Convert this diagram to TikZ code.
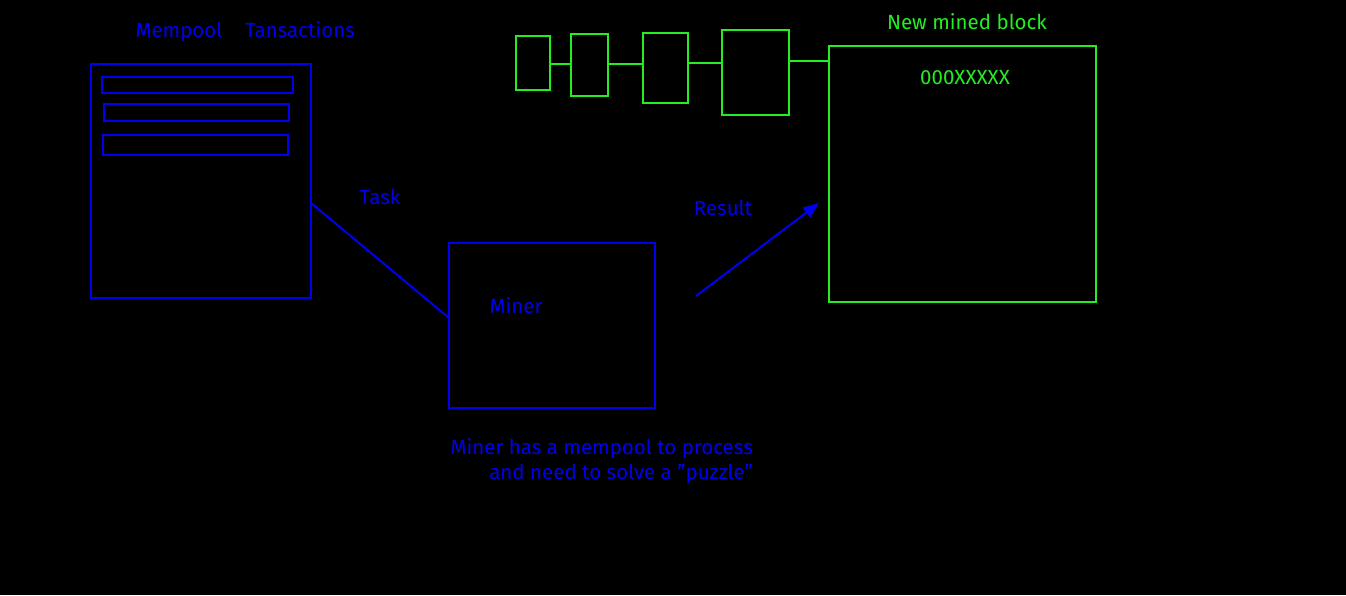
\documentclass[tikz,border=0pt]{standalone}
\usepackage{fontspec}
\setmainfont{Fira Sans}
\usetikzlibrary{arrows.meta}
\definecolor{bl}{HTML}{0000F0}
\definecolor{gr}{HTML}{22EE22}
\begin{document}
\begin{tikzpicture}[x=1pt,y=-1pt,
  box/.style={draw,line width=2pt,inner sep=0pt,outer sep=0pt,anchor=north west},
  bbox/.style={box,draw=bl},
  gbox/.style={box,draw=gr},
  btxt/.style={text=bl,font=\fontsize{20.5}{25}\selectfont,inner sep=0pt},
  gtxt/.style={text=gr,font=\fontsize{20.5}{25}\selectfont,inner sep=0pt},
  link/.style={line width=2pt}]
\fill[black] (0,0) rectangle (1346,595);
\useasboundingbox (0,0) rectangle (1346,595);
% mempool
\node[btxt] (mplabel) at (179,31.5) {Mempool};
\node[btxt] (txlabel) at (300,29.5) {Tansactions};
\node[bbox,minimum width=220pt,minimum height=234pt] (mp) at (91,64) {};
\node[bbox,minimum width=191pt,minimum height=16pt] (t1) at (102,77) {};
\node[bbox,minimum width=185pt,minimum height=17pt] (t2) at (104,104) {};
\node[bbox,minimum width=185pt,minimum height=20pt] (t3) at (103,135) {};
% miner
\node[bbox,minimum width=206pt,minimum height=165pt] (miner) at (449,243) {};
\node[btxt] (minerlabel) at (516,306) {Miner};
\node[btxt] (tasklabel) at (380,197) {Task};
\draw[link,bl] (mp.east |- 0,203) -- (miner.west |- 0,318);
\node[btxt,align=right,anchor=north east] (caption) at (753,438) {Miner has a mempool to process\\and need to solve a "puzzle"};
% result
\coordinate (rs) at (696,296);
\coordinate (re) at (819,203);
\draw[link,bl,-{Triangle[length=16pt,width=12pt]}] (rs) -- (re);
\node[btxt] (reslabel) at (723,208) {Result};
% chain
\node[gbox,minimum width=34pt,minimum height=54pt] (b1) at (516,36) {};
\node[gbox,minimum width=37pt,minimum height=62pt] (b2) at (571,34) {};
\node[gbox,minimum width=45pt,minimum height=70pt] (b3) at (643,33) {};
\node[gbox,minimum width=67pt,minimum height=85pt] (b4) at (722,30) {};
\node[gbox,minimum width=267pt,minimum height=256pt] (nb) at (829,46) {};
\draw[link,gr] (b1.east |- 0,64) -- (b2.west |- 0,64);
\draw[link,gr] (b2.east |- 0,64) -- (b3.west |- 0,64);
\draw[link,gr] (b3.east |- 0,63) -- (b4.west |- 0,63);
\draw[link,gr] (b4.east |- 0,61) -- (nb.west |- 0,61);
\node[gtxt] (nblabel) at (967,22) {New mined block};
\node[gtxt] (hash) at (965,78) {000XXXXX};
\end{tikzpicture}
\end{document}
